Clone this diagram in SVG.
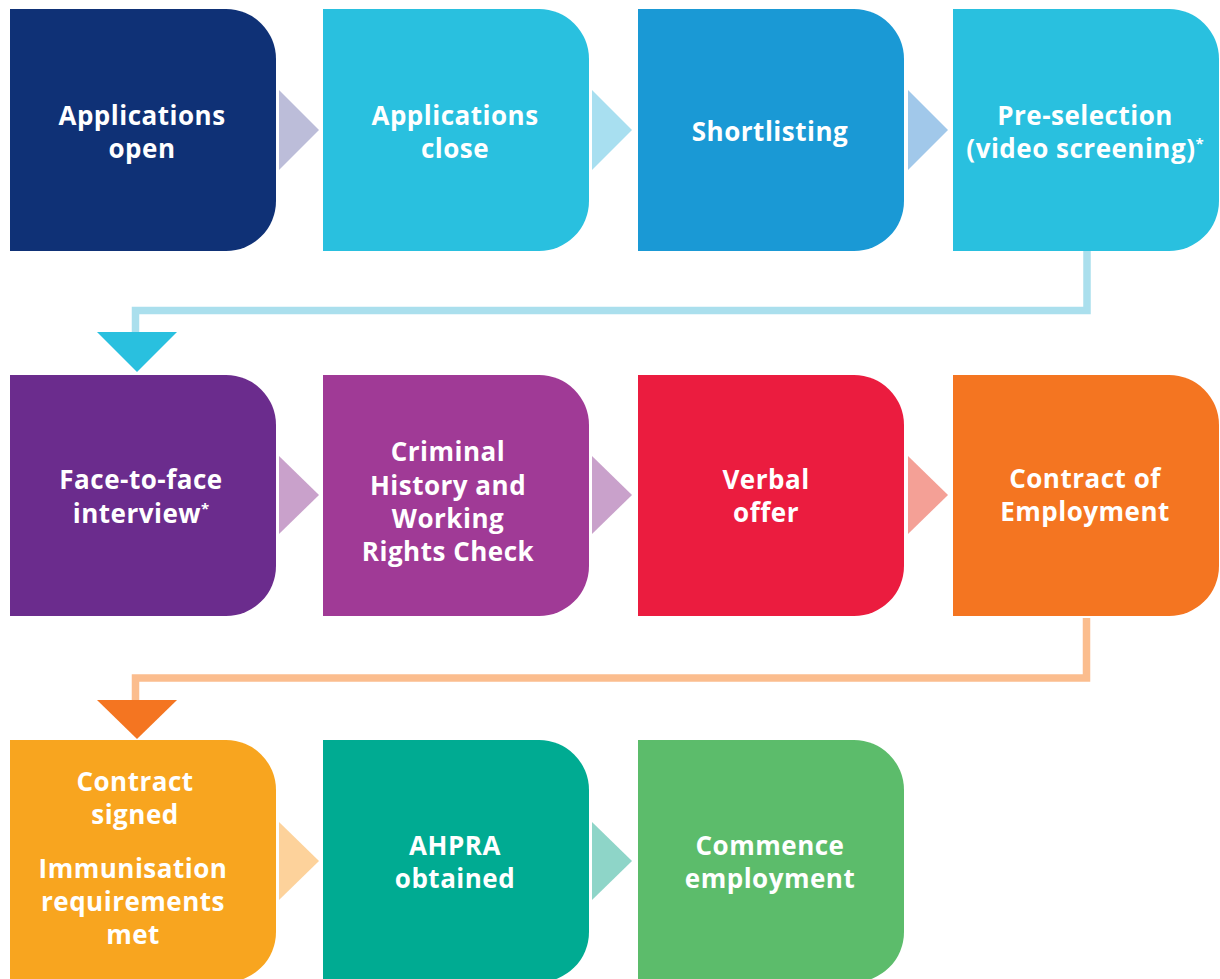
<svg xmlns="http://www.w3.org/2000/svg" width="1220" height="979" viewBox="0 0 1220 979">
<style>
text{font-family:"Open Sans","Liberation Sans",sans-serif;font-weight:700;font-size:26px;letter-spacing:0.5px;fill:#fff;text-anchor:middle}
.sup{font-size:15px;letter-spacing:0}
.ln{fill:none;stroke-width:7.5;stroke-linejoin:miter;stroke-linecap:butt}
</style>
<rect width="1220" height="979" fill="#fff"/>
<g id="connectors">
<polygon points="279,90 319,130 279,170" fill="#bcbdd9"/>
<polygon points="592,90 632,130 592,170" fill="#a8dff0"/>
<polygon points="908,90 948,130 908,170" fill="#a1c8ea"/>
<polygon points="279,456 319,495 279,534" fill="#c9a1cb"/>
<polygon points="592,456 632,495 592,534" fill="#c9a1cb"/>
<polygon points="908,456 948,495 908,534" fill="#f4a096"/>
<polygon points="279,822 319,861 279,900" fill="#fdd29b"/>
<polygon points="592,822 632,861 592,900" fill="#8ed5c8"/>
<path class="ln" d="M1087 251 V310.5 H135.5 V334" stroke="#aadfed"/>
<polygon points="97,332 177,332 137,372" fill="#29c0df"/>
<path class="ln" d="M1086.5 618 V678 H135.5 V702" stroke="#fbbd8e"/>
<polygon points="97,700 177,700 137,739" fill="#f47521"/>
</g>
<g id="n1"><path d="M10 9 H226 A50 50 0 0 1 276 59 V201 A50 50 0 0 1 226 251 H10 Z" fill="#0f3176"/><text x="142" y="125">Applications</text><text x="142" y="158">open</text></g>
<g id="n2"><path d="M323 9 H539 A50 50 0 0 1 589 59 V201 A50 50 0 0 1 539 251 H323 Z" fill="#29c0df"/><text x="455" y="125">Applications</text><text x="455" y="158">close</text></g>
<g id="n3"><path d="M638 9 H854 A50 50 0 0 1 904 59 V201 A50 50 0 0 1 854 251 H638 Z" fill="#1a99d5"/><text x="770" y="141">Shortlisting</text></g>
<g id="n4"><path d="M953 9 H1169 A50 50 0 0 1 1219 59 V201 A50 50 0 0 1 1169 251 H953 Z" fill="#29c0df"/><text x="1085" y="125">Pre-selection</text><text x="1085" y="158">(video screening)<tspan class="sup" dy="-9">*</tspan></text></g>
<g id="n5"><path d="M10 375 H226 A50 50 0 0 1 276 425 V566 A50 50 0 0 1 226 616 H10 Z" fill="#6b2c8d"/><text x="141" y="489">Face-to-face</text><text x="141" y="523">interview<tspan class="sup" dy="-9">*</tspan></text></g>
<g id="n6"><path d="M323 375 H539 A50 50 0 0 1 589 425 V566 A50 50 0 0 1 539 616 H323 Z" fill="#a03a96"/><text x="448" y="461">Criminal</text><text x="448" y="495">History and</text><text x="448" y="528">Working</text><text x="448" y="561">Rights Check</text></g>
<g id="n7"><path d="M638 375 H854 A50 50 0 0 1 904 425 V566 A50 50 0 0 1 854 616 H638 Z" fill="#eb1c3f"/><text x="766" y="489">Verbal</text><text x="766" y="522">offer</text></g>
<g id="n8"><path d="M953 375 H1169 A50 50 0 0 1 1219 425 V566 A50 50 0 0 1 1169 616 H953 Z" fill="#f47521"/><text x="1085" y="488">Contract of</text><text x="1085" y="521">Employment</text></g>
<g id="n9"><path d="M10 740 H226 A50 50 0 0 1 276 790 V932 A50 50 0 0 1 226 982 H10 Z" fill="#f8a51f"/><text x="135" y="791">Contract</text><text x="135" y="824">signed</text><text x="133" y="878">Immunisation</text><text x="133" y="911">requirements</text><text x="133" y="944">met</text></g>
<g id="n10"><path d="M323 740 H539 A50 50 0 0 1 589 790 V932 A50 50 0 0 1 539 982 H323 Z" fill="#00ab92"/><text x="455" y="855">AHPRA</text><text x="455" y="888">obtained</text></g>
<g id="n11"><path d="M638 740 H854 A50 50 0 0 1 904 790 V932 A50 50 0 0 1 854 982 H638 Z" fill="#5cbc6b"/><text x="770" y="855">Commence</text><text x="770" y="888">employment</text></g>
</svg>
